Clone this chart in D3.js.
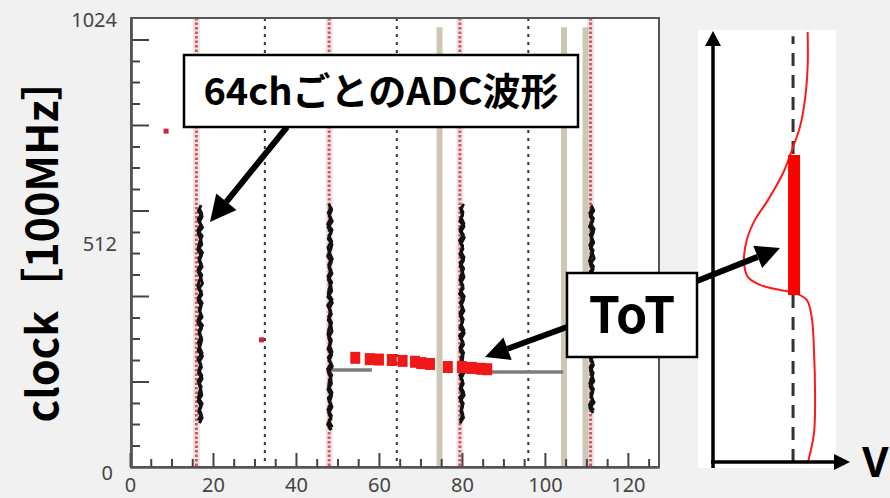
<!DOCTYPE html>
<html>
<head>
<meta charset="utf-8">
<script src="https://cdn.jsdelivr.net/npm/d3@7"></script>
<style>
  body { margin: 0; background: #f1f1f1; }
  svg { display: block; }
</style>
</head>
<body>
<div id="chart"></div>
<script>
// axis ticks
let xTickLabels = [0, 20, 40, 60, 80, 100, 120];
let xMinorTicks = [5, 10, 15, 25, 30, 35, 45, 50, 55, 65, 70, 75, 85, 90, 95, 105, 110, 115, 125];
let yTickLabels = [0, 512, 1024];
let yMajorTicks = [195, 390, 585, 780, 975];
let yMinorTicks = [49, 98, 146, 244, 293, 341, 439, 488, 536, 634, 683, 731, 829, 878, 926];

// channel guide lines
let redGuides = [16, 48, 79.5, 111];
let blackGuides = [32.5, 64.3, 96];
let beigeBars = [74.6, 104.6, 109.8];
let beigeTop = 1003;

// ADC waveforms, one per 64ch block
let waveChannels = [16.9, 48.2, 80, 111.3];
let waveTops = [597, 600, 600, 597];
let waveBottoms = [100, 84, 100, 123];
let waveWobble = [
  [0.3, -0.5, 0.6, -0.2, 0.7, -0.6, 0.1, 0.5, -0.7, 0.4, -0.3, 0.6, -0.5, 0.2, 0.7, -0.4, 0.5, -0.6, 0.3, -0.1, 0.6, -0.7, 0.4, -0.3, 0.5, 0.1, -0.6, 0.7, -0.2, 0.4, -0.5, 0.6, -0.3, 0.2, 0.5, -0.6, 0.3, -0.4, 0.6, -0.2],
  [-0.4, 0.5, -0.2, 0.7, -0.6, 0.3, -0.5, 0.6, 0.1, -0.7, 0.4, -0.3, 0.6, -0.5, 0.2, 0.5, -0.6, 0.7, -0.2, 0.4, -0.5, 0.3, 0.6, -0.4, 0.1, -0.6, 0.5, -0.3, 0.7, -0.5, 0.2, 0.4, -0.6, 0.5, -0.1, 0.6, -0.4, 0.3, -0.7, 0.4],
  [0.5, -0.3, 0.2, -0.6, 0.6, -0.4, 0.7, -0.2, 0.3, -0.6, 0.5, -0.5, 0.1, 0.6, -0.3, 0.4, -0.7, 0.5, -0.2, 0.6, -0.4, 0.2, -0.6, 0.7, -0.3, 0.5, -0.5, 0.3, 0.1, -0.6, 0.6, -0.2, 0.4, -0.5, 0.7, -0.4, 0.2, -0.3, 0.5, -0.6],
  [-0.2, 0.6, -0.5, 0.3, -0.7, 0.5, -0.1, 0.6, -0.4, 0.2, 0.7, -0.5, 0.4, -0.3, 0.6, -0.6, 0.1, 0.5, -0.4, 0.7, -0.2, 0.3, -0.6, 0.5, -0.5, 0.4, 0.2, -0.7, 0.6, -0.3, 0.5, -0.4, 0.1, 0.6, -0.5, 0.3, -0.2, 0.7, -0.6, 0.4]
];

// ToT hits (red squares)
let totCh = [54.3, 57.8, 60, 63.1, 65.7, 68.7, 70.2, 72.3, 76.6, 80, 82.4, 84.6, 86.1];
let totClock = [249, 246, 245, 244, 242, 240, 237, 235, 228, 228, 226, 224, 223];

// baseline segments (gray)
let baseStart = [47.3, 80];
let baseEnd = [58.3, 104.4];
let baseClock = [221, 216.6];

// stray hits
let strayCh = [8.7, 31.7];
let strayClock = [766, 290];

// right panel: one pulse, V vs time (arbitrary units)
let pulseV = [70.1, 70.1, 68.1, 64.4, 59.3, 51.9, 40.7, 31.1, 25, 23, 25.9, 34.8, 49.6, 60.7, 69.4, 73.1, 74.8, 75.6, 74.8, 70.4];
let pulseT = [100, 91.9, 84.2, 77.9, 73.3, 67.2, 60.9, 56.3, 51.6, 46.3, 43, 41.2, 40, 39.3, 37.7, 33.7, 26, 14.4, 6.7, 0];
let thresholdV = 59.3;
let totStart = 38.8;
let totEnd = 71.4;

let width = 890;
let height = 498;

let svg = d3.select('#chart')
  .append('svg')
  .attr('width', width)
  .attr('height', height)
  .style('background', '#f1f1f1');

let x = d3.scaleLinear().domain([0, 127.5]).range([130, 659]);
let y = d3.scaleLinear().domain([0, 1024]).range([467, 18]);

// plot area
svg.append('rect')
  .attr('x', x(0) + 1).attr('y', y(1024))
  .attr('width', x(127.5) - x(0) - 1).attr('height', y(0) - y(1024))
  .attr('fill', 'white');

let plot = svg.append('g');

// faint bands behind red guides
plot.selectAll('.band')
  .data(redGuides)
  .enter()
  .append('line')
  .attr('x1', d => x(d)).attr('x2', d => x(d))
  .attr('y1', y(1024)).attr('y2', y(0))
  .attr('stroke', '#f0e4de')
  .attr('stroke-width', 7);

plot.selectAll('.beige')
  .data(beigeBars)
  .enter()
  .append('line')
  .attr('x1', d => x(d)).attr('x2', d => x(d))
  .attr('y1', y(beigeTop)).attr('y2', y(0))
  .attr('stroke', '#cdc7b5')
  .attr('stroke-width', 6);

plot.selectAll('.red-guide')
  .data(redGuides)
  .enter()
  .append('line')
  .attr('x1', d => x(d)).attr('x2', d => x(d))
  .attr('y1', y(1024)).attr('y2', y(0))
  .attr('stroke', '#d4566a')
  .attr('stroke-width', 3)
  .attr('stroke-dasharray', '2.5,2');

plot.selectAll('.black-guide')
  .data(blackGuides)
  .enter()
  .append('line')
  .attr('x1', d => x(d)).attr('x2', d => x(d))
  .attr('y1', y(1024)).attr('y2', y(0))
  .attr('stroke', '#333')
  .attr('stroke-width', 2)
  .attr('stroke-dasharray', '3,5');

// gray baselines
plot.selectAll('.base')
  .data(baseStart)
  .enter()
  .append('line')
  .attr('x1', d => x(d))
  .attr('x2', (d, i) => x(baseEnd[i]))
  .attr('y1', (d, i) => y(baseClock[i]))
  .attr('y2', (d, i) => y(baseClock[i]))
  .attr('stroke', '#7c7c7c')
  .attr('stroke-width', 3.5);

// waveforms: two jittery passes per block make a dense band
let waveLine = d3.line().x(d => x(d[0])).y(d => y(d[1]));
waveChannels.forEach((ch, k) => {
  let w = waveWobble[k];
  let step = (waveTops[k] - waveBottoms[k]) / (w.length - 1);
  let passA = w.map((off, i) => [ch + off * 0.8, waveTops[k] - i * step]);
  let passB = w.map((off, i) => [ch - off * 0.8, waveTops[k] - (i + 0.5) * step]).slice(0, -1);
  [passA, passB].forEach(pts => {
    plot.append('path')
      .attr('d', waveLine(pts))
      .attr('fill', 'none')
      .attr('stroke', '#111')
      .attr('stroke-width', 3)
      .attr('stroke-linejoin', 'round');
  });
});

// ToT squares
plot.selectAll('.tot')
  .data(totCh)
  .enter()
  .append('rect')
  .attr('x', d => x(d) - 5)
  .attr('y', (d, i) => y(totClock[i]) - 6)
  .attr('width', 10)
  .attr('height', 12)
  .attr('fill', '#f01818');

plot.selectAll('.stray')
  .data(strayCh)
  .enter()
  .append('rect')
  .attr('x', d => x(d) - 2.5)
  .attr('y', (d, i) => y(strayClock[i]) - 2.5)
  .attr('width', 5)
  .attr('height', 5)
  .attr('fill', '#d02040');

// frame and axes
svg.append('rect')
  .attr('x', x(0) + 1).attr('y', y(1024))
  .attr('width', x(127.5) - x(0) - 1).attr('height', y(0) - y(1024))
  .attr('fill', 'none')
  .attr('stroke', '#555')
  .attr('stroke-width', 2);

let axisFont = '"Noto Sans", sans-serif';

svg.append('g')
  .attr('transform', `translate(0,${y(0)})`)
  .call(d3.axisBottom(x).tickValues(xTickLabels).tickSizeInner(-14).tickSizeOuter(0).tickPadding(11));
svg.append('g')
  .attr('transform', `translate(0,${y(0)})`)
  .call(d3.axisBottom(x).tickValues(xMinorTicks).tickSizeInner(-8).tickSizeOuter(0).tickFormat(''));

svg.append('g')
  .attr('transform', `translate(${x(0) + 1},0)`)
  .call(d3.axisLeft(y).tickValues(yMajorTicks).tickSizeInner(-18).tickSizeOuter(0).tickFormat(''));
svg.append('g')
  .attr('transform', `translate(${x(0) + 1},0)`)
  .call(d3.axisLeft(y).tickValues(yMinorTicks).tickSizeInner(-9).tickSizeOuter(0).tickFormat(''));
let yAxis = svg.append('g')
  .attr('transform', `translate(${x(0) + 1},0)`)
  .call(d3.axisLeft(y).tickValues(yTickLabels).tickFormat(d3.format('d')).tickSizeInner(0).tickSizeOuter(0).tickPadding(14));

svg.selectAll('.domain').attr('stroke', '#555').attr('stroke-width', 2);
svg.selectAll('.tick line').attr('stroke', '#444').attr('stroke-width', 2);
svg.selectAll('.tick text')
  .style('font-family', axisFont)
  .style('font-size', '20px')
  .attr('fill', '#444');
yAxis.selectAll('.tick text').attr('dy', d => d === 0 ? '0.62em' : '0.42em').attr('x', d => d === 0 ? -18 : -14);

// y title
svg.append('text')
  .attr('transform', 'translate(58,240) rotate(-90)')
  .attr('text-anchor', 'middle')
  .style('font-family', '"Noto Sans CJK JP", sans-serif')
  .style('font-weight', 'bold')
  .style('font-size', '43px')
  .text('clock［100MHz］');

// right panel
let v = d3.scaleLinear().domain([0, 100]).range([713, 848]);
let t = d3.scaleLinear().domain([0, 100]).range([462, 32]);
let side = svg.append('g');

side.append('rect')
  .attr('x', 698).attr('y', 30).attr('width', 138).attr('height', 438)
  .attr('fill', 'white');

side.append('line')
  .attr('x1', v(thresholdV)).attr('x2', v(thresholdV))
  .attr('y1', t(0)).attr('y2', t(99))
  .attr('stroke', '#333')
  .attr('stroke-width', 3)
  .attr('stroke-dasharray', '13,9');

side.append('path')
  .datum(pulseV.map((d, i) => [d, pulseT[i]]))
  .attr('d', d3.line().x(d => v(d[0])).y(d => t(d[1])).curve(d3.curveCatmullRom))
  .attr('fill', 'none')
  .attr('stroke', '#ff1a1a')
  .attr('stroke-width', 2);

side.append('rect')
  .attr('x', v(thresholdV) - 5)
  .attr('y', t(totEnd))
  .attr('width', 12)
  .attr('height', t(totStart) - t(totEnd))
  .attr('fill', '#ff0000');

function arrow(g, x1, y1, x2, y2, w, headLen, headW) {
  let a = Math.atan2(y2 - y1, x2 - x1);
  let bx = x2 - headLen * Math.cos(a);
  let by = y2 - headLen * Math.sin(a);
  g.append('line')
    .attr('x1', x1).attr('y1', y1).attr('x2', bx).attr('y2', by)
    .attr('stroke', '#000')
    .attr('stroke-width', w);
  g.append('polygon')
    .attr('points', [
      [x2, y2],
      [bx + headW * Math.sin(a), by - headW * Math.cos(a)],
      [bx - headW * Math.sin(a), by + headW * Math.cos(a)]
    ].map(p => p.join(',')).join(' '))
    .attr('fill', '#000');
}

// panel axes
arrow(side, 713, 468, 713, 31, 3.5, 15, 8);
arrow(side, 711, 462, 850, 462, 3.5, 16, 8);

side.append('text')
  .attr('x', 862).attr('y', 477)
  .style('font-family', '"Noto Sans", sans-serif')
  .style('font-weight', 'bold')
  .style('font-size', '41px')
  .text('V');

// annotations
let notes = svg.append('g');
arrow(notes, 287, 127, 210, 222, 6, 26, 13);
arrow(notes, 567, 327, 485, 357, 6, 24, 12);
arrow(notes, 697, 281, 780, 248, 6, 24, 12);

notes.append('rect')
  .attr('x', 184).attr('y', 55).attr('width', 394).attr('height', 72)
  .attr('fill', 'white')
  .attr('stroke', '#000')
  .attr('stroke-width', 2.5);
notes.append('text')
  .attr('x', 381).attr('y', 105)
  .attr('text-anchor', 'middle')
  .style('font-family', '"Noto Sans CJK JP", sans-serif')
  .style('font-weight', 'bold')
  .style('font-size', '38px')
  .text('64chごとのADC波形');

notes.append('rect')
  .attr('x', 567).attr('y', 273).attr('width', 130).attr('height', 84)
  .attr('fill', 'white')
  .attr('stroke', '#000')
  .attr('stroke-width', 2.5);
notes.append('text')
  .attr('x', 632).attr('y', 333)
  .attr('text-anchor', 'middle')
  .style('font-family', '"Noto Sans CJK JP", sans-serif')
  .style('font-weight', 'bold')
  .style('font-size', '50px')
  .text('ToT');
</script>
</body>
</html>
